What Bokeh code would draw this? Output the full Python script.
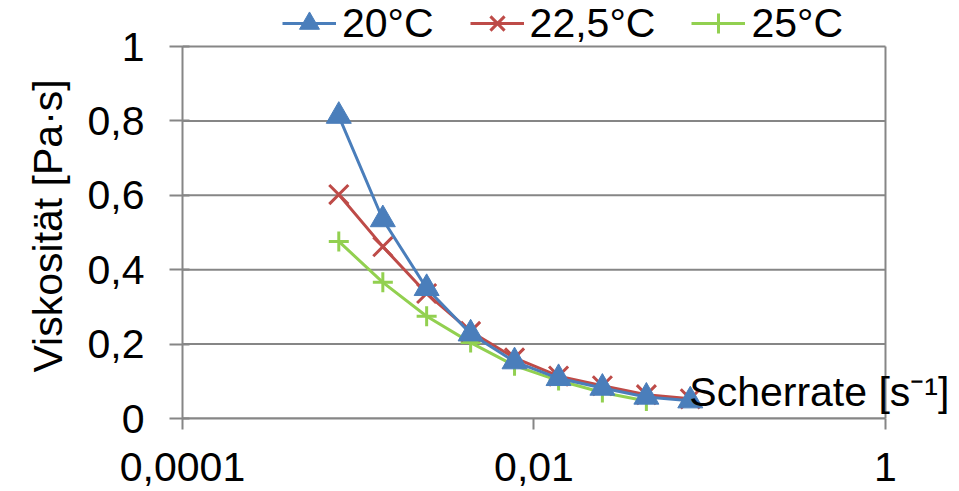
from bokeh.plotting import figure
from bokeh.models import (FixedTicker, CustomJSTickFormatter, Legend, LegendItem,
                          Label, ColumnDataSource, Range1d, Title)
from bokeh.embed import file_html
from bokeh.resources import INLINE

# ---- data ----
shear_rate = [0.000775, 0.00138, 0.00245, 0.00436, 0.00775, 0.0138, 0.0245, 0.0436, 0.0775]
visc_20 = [0.813, 0.535, 0.350, 0.228, 0.153, 0.108, 0.082, 0.058, 0.048]
visc_225 = [0.602, 0.462, 0.336, 0.234, 0.163, 0.114, 0.088, 0.064, 0.053]
shear_rate_25 = [0.000775, 0.00138, 0.00245, 0.00436, 0.00775, 0.0138, 0.0245, 0.0436]
visc_25 = [0.476, 0.366, 0.275, 0.204, 0.142, 0.102, 0.070, 0.047]
series_names = ["20°C", "22,5°C", "25°C"]
x_ticks = [0.0001, 0.01, 1]
y_ticks = [0, 0.2, 0.4, 0.6, 0.8, 1]
x_title = "Scherrate [s⁻¹]"
y_title = "Viskosität [Pa·s]"

FONT = "Liberation Sans"
FS = "41px"
GRAY = "#868686"
BLUE = "#4A7EBB"
RED = "#BE4B48"
GREEN = "#92D050"

# axis extents of the drawn chart box
X_MIN, X_MAX = x_ticks[0], x_ticks[-1]
Y_MIN, Y_MAX = y_ticks[0], y_ticks[-1]

# the frame extends past the chart box (to the right and top) so that the
# legend and the in-plot axis title are not clipped
p = figure(width=957, height=490, x_axis_type="log",
           x_range=Range1d(X_MIN, 2.569), y_range=Range1d(Y_MIN, 1.1237),
           output_backend="svg", toolbar_location=None,
           min_border_left=182, min_border_right=0,
           min_border_top=0, min_border_bottom=72)

p.outline_line_color = None
p.background_fill_color = "white"
p.border_fill_color = "white"
p.xgrid.grid_line_color = None
p.ygrid.grid_line_color = None

# horizontal grid lines and right border of the chart box
grid_src = ColumnDataSource(dict(x0=[X_MIN] * len(y_ticks), x1=[X_MAX] * len(y_ticks), y=y_ticks))
p.segment(x0="x0", y0="y", x1="x1", y1="y", source=grid_src,
          line_color=GRAY, line_width=2, level="underlay")
p.segment(x0=[X_MAX], y0=[Y_MIN], x1=[X_MAX], y1=[Y_MAX],
          line_color=GRAY, line_width=2, level="underlay")

fmt = CustomJSTickFormatter(code="return Number(tick.toPrecision(6)).toString().replace('.', ',');")

# x axis
xa = p.xaxis[0]
xa.bounds = (X_MIN, X_MAX)
xa.ticker = FixedTicker(ticks=x_ticks, minor_ticks=[])
xa.formatter = fmt
xa.axis_line_color = GRAY
xa.axis_line_width = 2
xa.major_tick_line_color = GRAY
xa.major_tick_line_width = 2
xa.major_tick_in = 0
xa.major_tick_out = 11
xa.minor_tick_line_color = None
xa.major_label_text_font = FONT
xa.major_label_text_font_size = FS
xa.major_label_text_color = "black"
xa.major_label_standoff = 23

# y axis
ya = p.yaxis[0]
ya.bounds = (Y_MIN, Y_MAX)
ya.ticker = FixedTicker(ticks=y_ticks, minor_ticks=[])
ya.formatter = fmt
ya.axis_line_color = GRAY
ya.axis_line_width = 2
ya.major_tick_line_color = GRAY
ya.major_tick_line_width = 2
ya.major_tick_in = 7
ya.major_tick_out = 13
ya.minor_tick_line_color = None
ya.major_label_text_font = FONT
ya.major_label_text_font_size = FS
ya.major_label_text_color = "black"
ya.major_label_standoff = 25

# y axis title (a side-panel title so it can be offset along the axis)
ytitle = Title(text=y_title, align="left", offset=46, standoff=28,
               text_font=FONT, text_font_size=FS, text_font_style="normal",
               text_color="black")
p.add_layout(ytitle, "left")

# series
s20 = ColumnDataSource(dict(x=shear_rate, y=visc_20))
s225 = ColumnDataSource(dict(x=shear_rate, y=visc_225))
s25 = ColumnDataSource(dict(x=shear_rate_25, y=visc_25))

l3 = p.line("x", "y", source=s25, line_color=GREEN, line_width=3)
m3 = p.scatter("x", "y", source=s25, marker="cross", size=20,
               line_color=GREEN, line_width=3)
l2 = p.line("x", "y", source=s225, line_color=RED, line_width=3)
m2 = p.scatter("x", "y", source=s225, marker="x", size=27,
               line_color=RED, line_width=3)
l1 = p.line("x", "y", source=s20, line_color=BLUE, line_width=3)
m1 = p.scatter("x", "y", source=s20, marker="triangle", size=25,
               fill_color=BLUE, line_color=BLUE, line_width=1)

legend = Legend(items=[
    LegendItem(label=series_names[0], renderers=[l1, m1]),
    LegendItem(label=series_names[1], renderers=[l2, m2]),
    LegendItem(label=series_names[2], renderers=[l3, m3]),
], orientation="horizontal", location=(100, 370),
    label_text_font=FONT, label_text_font_size=FS, label_text_color="black",
    label_text_line_height=1.0,
    glyph_width=54, glyph_height=50, label_standoff=6, spacing=36,
    padding=0, margin=0, border_line_color=None, background_fill_alpha=0)
p.add_layout(legend, "center")

xlab = Label(x=shear_rate[-1], y=0.07, text=x_title, text_font=FONT,
             text_font_size=FS, text_color="black", text_baseline="alphabetic",
             text_align="left", x_offset=-1)
p.add_layout(xlab)

open("out.html", "w").write(file_html(p, INLINE))
